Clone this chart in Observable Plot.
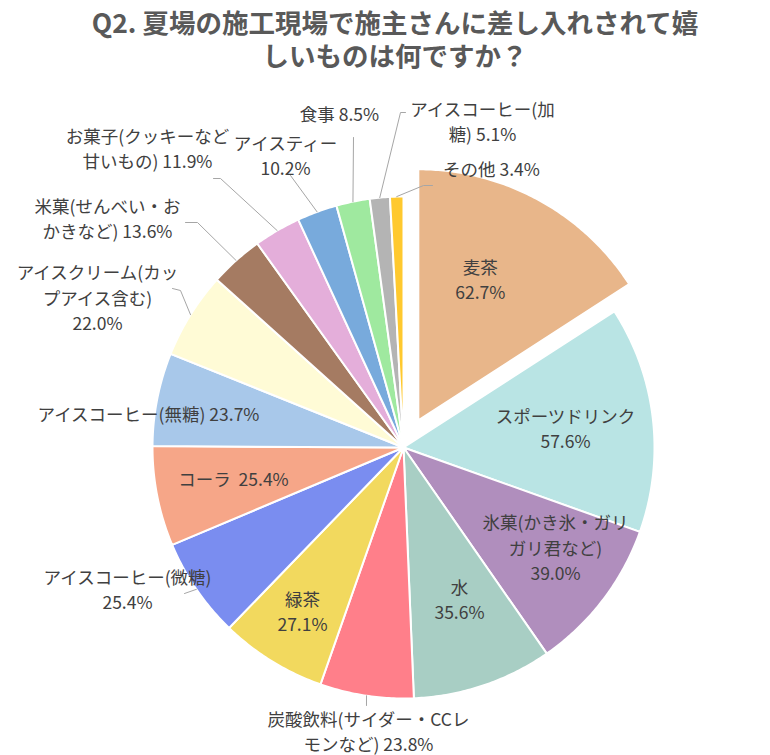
<!DOCTYPE html>
<html><head><meta charset="utf-8">
<script src="https://cdn.jsdelivr.net/npm/d3@7"></script>
<script src="https://cdn.jsdelivr.net/npm/@observablehq/plot@0.6"></script>
<style>
body{margin:0;background:#fff;}
#title{box-sizing:border-box;width:770px;padding:5px 0 0 20px;height:72px;font-family:"Noto Sans CJK JP","Noto Sans",sans-serif;font-weight:bold;font-size:26.5px;color:#595959;text-align:center;}
#title div{height:33px;line-height:33px;white-space:nowrap;}
</style></head><body>
<div id="title"><div>Q2. 夏場の施工現場で施主さんに差し入れされて嬉</div><div>しいものは何ですか？</div></div>
<div id="chart"></div>
<script>
// ---- data ----
const categories = ["麦茶","スポーツドリンク","氷菓(かき氷・ガリガリ君など)","水","炭酸飲料(サイダー・CCレモンなど)","緑茶","アイスコーヒー(微糖)","コーラ","アイスコーヒー(無糖)","アイスクリーム(カップアイス含む)","米菓(せんべい・おかきなど)","お菓子(クッキーなど甘いもの)","アイスティー","食事","アイスコーヒー(加糖)","その他"];
const values = [62.7,57.6,39.0,35.6,23.8,27.1,25.4,25.4,23.7,22.0,13.6,11.9,10.2,8.5,5.1,3.4];
const labelTexts = ["麦茶\n","スポーツドリンク\n","氷菓(かき氷・ガリ\nガリ君など)\n","水\n","炭酸飲料(サイダー・CCレ\nモンなど) ","緑茶\n","アイスコーヒー(微糖)\n","コーラ\u00a0\u00a0","アイスコーヒー(無糖) ","アイスクリーム(カッ\nプアイス含む)\n","米菓(せんべい・お\nかきなど) ","お菓子(クッキーなど\n甘いもの) ","アイスティー\n","食事 ","アイスコーヒー(加\n糖) ","その他 "];
const colors = ["#E8B68A","#B9E4E4","#B08EBD","#A8CEC4","#FF7F8A","#F2D95E","#7A8DF0","#F6A688","#A8C8EA","#FFFBD6","#A57B62","#E4AEDA","#78AADC","#9FE99F","#B4B4B4","#FFC92E"];

// ---- layout ----
const W = 770, H = 683;
const cx = 403, cy = 375, R = 251, explode = 31;
const labelOffsets = [[62,-142],[162,-20],[152,99],[56,151],[-35,283],[-101,163],[-276,141],[-170,30],[-255,-35],[-306,-151],[-296,-230],[-256,-300],[-118,-293],[-64,-335],[79,-327],[88,-280]];
const leaders = {4:[[-37,258]],6:[[-219,146]],9:[[-223,-157],[-231,-159]],10:[[-206,-225],[-218,-225]],11:[[-183,-269],[-190,-269]],12:[[-113,-272]],13:[[-50,-310]],14:[[-3,-335],[2,-335]],15:[[20,-262],[29,-262]]};

const arcs = d3.pie().sort(null).value(d => d)(values);
const slices = [], labels = [], leaderPts = [];
arcs.forEach((a, i) => {
  const mid = (a.startAngle + a.endAngle) / 2;
  const ox = i === 0 ? explode * Math.sin(mid) : 0;
  const oy = i === 0 ? -explode * Math.cos(mid) : 0;
  const x0 = cx + ox, y0 = cy + oy;
  slices.push({name: categories[i], color: colors[i], x: x0, y: y0});
  const n = Math.max(2, Math.ceil((a.endAngle - a.startAngle) / 0.01));
  for (let k = 0; k <= n; k++) {
    const t = a.startAngle + (a.endAngle - a.startAngle) * k / n;
    slices.push({name: categories[i], color: colors[i], x: x0 + R * Math.sin(t), y: y0 - R * Math.cos(t)});
  }
  labels.push({text: labelTexts[i] + values[i].toFixed(1) + "%", x: x0 + labelOffsets[i][0], y: y0 + labelOffsets[i][1]});
  if (leaders[i]) {
    leaderPts.push({id: i, x: cx + R * Math.sin(mid), y: cy - R * Math.cos(mid)});
    leaders[i].forEach(p => leaderPts.push({id: i, x: cx + p[0], y: cy + p[1]}));
  }
});

const chart = Plot.plot({
  width: W, height: H, margin: 0,
  x: {domain: [0, W], range: [0, W], axis: null},
  y: {domain: [0, H], range: [0, H], axis: null},
  style: {fontFamily: "'Noto Sans CJK JP','Noto Sans',sans-serif", background: "#fff"},
  marks: [
    Plot.line(slices, {x: "x", y: "y", z: "name", fill: "color", stroke: "#fff", strokeWidth: 2, curve: "linear-closed"}),
    Plot.line(leaderPts, {x: "x", y: "y", z: "id", stroke: "#A6A6A6", strokeWidth: 1}),
    Plot.text(labels, {x: "x", y: "y", text: "text", fontSize: 17.5, lineHeight: 1.43, fill: "#404040"})
  ]
});
document.getElementById("chart").appendChild(chart);
</script>
</body></html>
